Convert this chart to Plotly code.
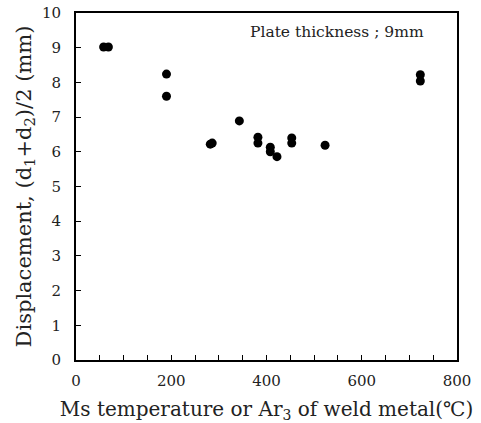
import plotly.graph_objects as go

# Data
ms_temp = [58, 68, 190, 190, 282, 286, 343, 382, 382, 408, 408, 422, 453, 453, 523, 723, 723]
displacement = [9.02, 9.02, 8.24, 7.6, 6.22, 6.25, 6.89, 6.42, 6.25, 6.13, 6.0, 5.86, 6.4, 6.25, 6.19, 8.22, 8.04]

x_ticks = [0, 200, 400, 600, 800]
y_ticks = list(range(0, 11))

FONT = "DejaVu Serif"

fig = go.Figure()
fig.add_trace(go.Scatter(
    x=ms_temp, y=displacement, mode="markers",
    marker=dict(color="black", size=9, line=dict(width=0)),
    showlegend=False,
))

fig.update_layout(
    width=481, height=423,
    margin=dict(l=76, r=24, t=13, b=63),
    paper_bgcolor="white", plot_bgcolor="white",
    font=dict(family=FONT, color="#222", size=15),
    xaxis=dict(
        range=[0, 800], tickvals=x_ticks, ticks="inside", ticklen=5,
        tickcolor="black", showline=True, linecolor="black", linewidth=2,
        mirror=True, showgrid=False, zeroline=False, automargin=False,
        ticklabelstandoff=6, ticklabeloverflow="allow",
        minor=dict(dtick=50, ticks="inside", ticklen=5, tickcolor="black", showgrid=False),
        title=dict(text="Ms temperature or Ar<sub>3</sub> of weld metal(℃)",
                   font=dict(size=20, family=FONT), standoff=22),
        tickfont=dict(size=15, family=FONT),
    ),
    yaxis=dict(
        range=[0, 10], tickvals=y_ticks, ticks="inside", ticklen=5,
        tickcolor="black", showline=True, linecolor="black", linewidth=2,
        mirror=True, showgrid=False, zeroline=False, automargin=False,
        ticklabelstandoff=10, ticklabeloverflow="allow",
        title=dict(text="Displacement, (d<sub>1</sub>+d<sub>2</sub>)/2 (mm)",
                   font=dict(size=21, family=FONT), standoff=5),
        tickfont=dict(size=15, family=FONT),
    ),
    annotations=[dict(
        text="Plate thickness ; 9mm", xref="paper", yref="paper",
        x=0.919, y=0.945, xanchor="right", yanchor="middle", showarrow=False,
        font=dict(size=15.5, family=FONT, color="#222"),
    )],
)

fig.write_html("out.html", config={"displayModeBar": False},
               post_script="document.body.style.margin='0px';")
